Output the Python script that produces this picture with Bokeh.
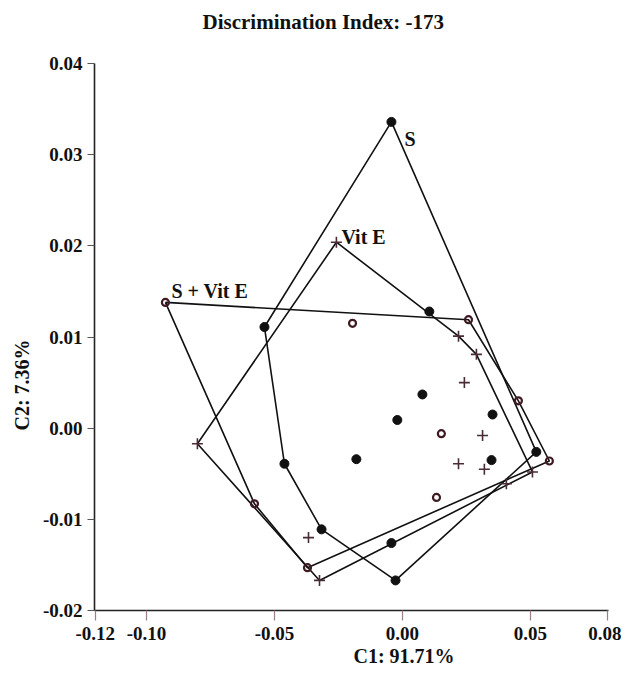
import math
from bokeh.plotting import figure
from bokeh.models import Label, FixedTicker, Range1d, PrintfTickFormatter, Title
from bokeh.embed import file_html
from bokeh.resources import INLINE

# ---------------- data ----------------
title_text = "Discrimination Index: -173"
x_label = "C1: 91.71%"
y_label = "C2: 7.36%"
x_ticks = [-0.12, -0.10, -0.05, 0.00, 0.05, 0.08]
y_ticks = [-0.02, -0.01, 0.00, 0.01, 0.02, 0.03, 0.04]

group_names = ["S", "Vit E", "S + Vit E"]

s_x = [-0.0043, 0.0523, -0.0027, -0.0316, -0.0461, -0.0539,
       0.0105, 0.0078, -0.0020, -0.0180, 0.0352, 0.0348, -0.0043]
s_y = [0.0336, -0.0026, -0.0167, -0.0111, -0.0039, 0.0111,
       0.0128, 0.0037, 0.0009, -0.0034, 0.0015, -0.0035, -0.0126]

vite_x = [-0.0258, 0.0289, 0.0508, 0.0406, -0.0324, -0.0801,
          0.0219, 0.0242, 0.0313, 0.0219, 0.0320, -0.0367]
vite_y = [0.0204, 0.0081, -0.0048, -0.0061, -0.0167, -0.0017,
          0.0101, 0.0050, -0.0008, -0.0039, -0.0045, -0.0120]

svite_x = [-0.0926, 0.0258, 0.0453, 0.0574, -0.0371, -0.0578,
           -0.0195, 0.0152, 0.0133]
svite_y = [0.0138, 0.0119, 0.0030, -0.0036, -0.0153, -0.0083,
           0.0115, -0.0006, -0.0076]


def convex_hull(xs, ys):
    pts = sorted(set(zip(xs, ys)))

    def cross(o, a, b):
        return (a[0] - o[0]) * (b[1] - o[1]) - (a[1] - o[1]) * (b[0] - o[0])

    lower, upper = [], []
    for p in pts:
        while len(lower) >= 2 and cross(lower[-2], lower[-1], p) <= 0:
            lower.pop()
        lower.append(p)
    for p in reversed(pts):
        while len(upper) >= 2 and cross(upper[-2], upper[-1], p) <= 0:
            upper.pop()
        upper.append(p)
    h = lower[:-1] + upper[:-1]
    h.append(h[0])
    return [p[0] for p in h], [p[1] for p in h]


SERIF = "Liberation Serif"
INK = "#111111"

# frame extends a little above the y axis so the title sits higher
p = figure(width=621, height=671, output_backend="svg", toolbar_location=None,
           x_range=Range1d(-0.1203, 0.0805), y_range=Range1d(-0.02, 0.04308),
           min_border_left=94, min_border_right=13, min_border_top=35,
           min_border_bottom=61)
p.title = Title(text=title_text, align="left", offset=108, standoff=4,
                vertical_align="bottom",
                text_font=SERIF, text_font_size="21px", text_font_style="bold",
                text_color=INK)
p.outline_line_color = None
p.grid.visible = False
p.background_fill_color = "white"

for ax in (p.xaxis[0], p.yaxis[0]):
    ax.axis_line_color = "#222222"
    ax.axis_line_width = 1.6
    ax.minor_tick_line_color = None
    ax.major_tick_in = 0
    ax.major_label_text_font = SERIF
    ax.major_label_text_font_style = "bold"
    ax.major_label_text_font_size = "19px"
    ax.major_label_text_color = INK
    ax.formatter = PrintfTickFormatter(format="%.2f")

p.xaxis.ticker = FixedTicker(ticks=x_ticks)
p.yaxis.ticker = FixedTicker(ticks=y_ticks)
p.yaxis.bounds = (y_ticks[0], y_ticks[-1])
p.xaxis.major_tick_out = 10
p.xaxis.major_tick_line_color = "#9a7f86"
p.xaxis.major_tick_line_width = 1.2
p.xaxis.major_label_standoff = 6
p.yaxis.major_tick_out = 7
p.yaxis.major_tick_line_color = "#555555"
p.yaxis.major_tick_line_width = 1.2
p.yaxis.major_label_standoff = 5

# axis titles as extra titles (placed outside the frame)
p.add_layout(Title(text=x_label, align="left", offset=259, standoff=0,
                   text_font=SERIF, text_font_size="20px", text_font_style="bold",
                   text_color=INK), "below")
p.add_layout(Title(text=y_label, align="left", offset=180, standoff=14,
                   text_font=SERIF, text_font_size="20px", text_font_style="bold",
                   text_color=INK), "left")

# hulls
for xs, ys in ((s_x, s_y), (vite_x, vite_y), (svite_x, svite_y)):
    hx, hy = convex_hull(xs, ys)
    p.line(hx, hy, line_color=INK, line_width=1.6)

# points
p.scatter(s_x, s_y, marker="circle", size=9, fill_color=INK, line_color=INK)
p.scatter(vite_x, vite_y, marker="cross", size=11, line_color="#4a2c36",
          line_width=1.6)
p.scatter(svite_x, svite_y, marker="circle", size=7, fill_color=None,
          line_color="#3e1a22", line_width=2.2)

# group labels, anchored at each group's highest point
label_style = dict(text_font=SERIF, text_font_style="bold", text_font_size="20px",
                   text_color=INK, text_baseline="middle", text_align="left")
offsets = [(13, -17), (5, 5), (6, 11)]
for name, xs, ys, (dx, dy) in zip(group_names, (s_x, vite_x, svite_x),
                                  (s_y, vite_y, svite_y), offsets):
    i = max(range(len(ys)), key=lambda k: ys[k])
    p.add_layout(Label(x=xs[i], y=ys[i], x_offset=dx, y_offset=dy, text=name,
                       **label_style))

open("out.html", "w").write(file_html(p, INLINE))
